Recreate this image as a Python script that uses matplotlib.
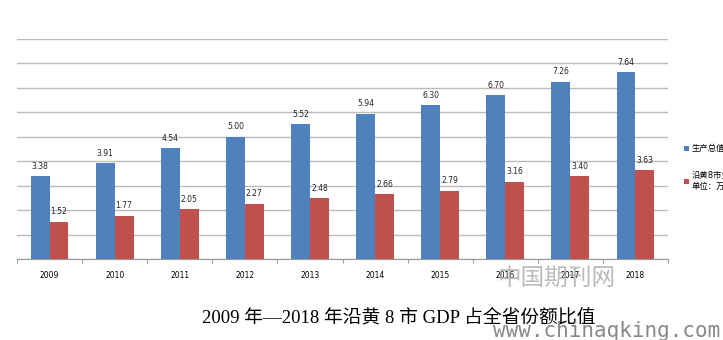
import numpy as np
import matplotlib
matplotlib.use('Agg')
import matplotlib.pyplot as plt

plt.rcParams['font.family'] = ['DejaVu Sans', 'Noto Sans CJK SC']

years = ['2009', '2010', '2011', '2012', '2013', '2014', '2015', '2016', '2017', '2018']
province_gdp = [3.38, 3.91, 4.54, 5.00, 5.52, 5.94, 6.30, 6.70, 7.26, 7.64]
yellow_river_8 = [1.52, 1.77, 2.05, 2.27, 2.48, 2.66, 2.79, 3.16, 3.40, 3.63]
series_names = ['生产总值（万亿元）', '沿黄8市生产总值\n单位：万亿元']
title_text = '2009 年—2018 年沿黄 8 市 GDP 占全省份额比值'

blue = '#4F81BD'
red = '#C0504D'

fig = plt.figure(figsize=(7.23, 3.4), dpi=100)
ax = fig.add_axes([17/723, 1 - 259/340, (668 - 17)/723, (259 - 39)/340])

x = np.arange(len(years))
w = 0.29
b1 = ax.bar(x - w/2, province_gdp, w, color=blue, label=series_names[0], zorder=3)
b2 = ax.bar(x + w/2, yellow_river_8, w, color=red, label=series_names[1], zorder=3)

for bars, vals in [(b1, province_gdp), (b2, yellow_river_8)]:
    for bar, v in zip(bars, vals):
        ax.text(bar.get_x() + bar.get_width()/2, v + 0.22, f'{v:.2f}',
                ha='center', va='bottom', fontsize=5.5, color='#222222')

ax.set_xlim(-0.5, len(years) - 0.5)
ax.set_ylim(0, 9)
ax.set_yticks(range(0, 10))
ax.set_yticklabels([])
ax.tick_params(axis='y', length=0)
ax.grid(axis='y', color='#BBBBBB', linewidth=1, zorder=0)

ax.set_xticks(x)
ax.set_xticklabels(years, fontsize=5.5)
ax.tick_params(axis='x', length=0, pad=9)
# category boundary ticks
ax.set_xticks(np.arange(-0.5, len(years)), minor=True)
ax.tick_params(axis='x', which='minor', length=3, color='#888888')

for s in ['top', 'right', 'left']:
    ax.spines[s].set_visible(False)
ax.spines['bottom'].set_color('#999999')

# legend runs off the right edge, as in the original
ax.legend(loc='upper left', bbox_to_anchor=(684/723, 1 - 144/340),
          bbox_transform=fig.transFigure, frameon=False, fontsize=6,
          handlelength=0.55, handleheight=0.55, handletextpad=0.35,
          labelspacing=2.2, borderaxespad=0, borderpad=0)

fig.text(399/723, 1 - 318/340, title_text, ha='center', va='center', fontsize=13.5,
         family=['Liberation Serif', 'Noto Sans CJK SC'], color='black')

# watermark
fig.text(557/723, 1 - 278/340, '中国期刊网', ha='center', va='center', fontsize=17,
         color='#AAAAAA', alpha=0.8, family=['Noto Sans CJK SC'], fontweight='light')
fig.text(493/723, 1 - 331/340, 'www.chinaqking.com', ha='left', va='center',
         fontsize=15, color='#888888', family=['DejaVu Sans Mono'])

fig.savefig('out.png', dpi=100)
